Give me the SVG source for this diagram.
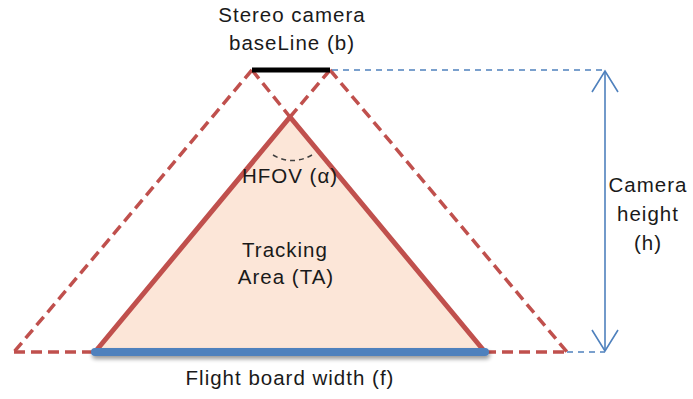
<svg xmlns="http://www.w3.org/2000/svg" width="693" height="399" viewBox="0 0 693 399">
<defs>
<style>
.t{font-family:"Liberation Sans",Arial,sans-serif;font-size:20.5px;letter-spacing:1px;fill:#1a1a1a;text-anchor:middle}
.rd{fill:none;stroke:#C0504D;stroke-width:3.5;stroke-dasharray:11,6}
.bd{fill:none;stroke:#4F81BD;stroke-width:1.3;stroke-dasharray:6,5}
</style>
<marker id="ah" markerWidth="24" markerHeight="28" refX="22" refY="14" orient="auto-start-reverse" markerUnits="userSpaceOnUse" viewBox="0 0 24 28">
<path d="M1,1 L22,14 L1,27" fill="none" stroke="#4F81BD" stroke-width="1.6"/>
</marker>
<filter id="sh" filterUnits="userSpaceOnUse" x="80" y="335" width="420" height="40">
<feGaussianBlur in="SourceAlpha" stdDeviation="2"/>
<feOffset dx="1" dy="3"/>
<feComponentTransfer><feFuncA type="linear" slope="0.4"/></feComponentTransfer>
<feMerge><feMergeNode/><feMergeNode in="SourceGraphic"/></feMerge>
</filter>
</defs>
<rect width="693" height="399" fill="#fff"/>
<g id="connectors">
<line class="rd" x1="252" y1="70" x2="14" y2="352"/>
<line class="rd" x1="252" y1="70" x2="290" y2="117"/>
<line class="rd" x1="330" y1="70" x2="290" y2="117"/>
<line class="rd" x1="330" y1="70" x2="567" y2="352"/>
<line class="rd" x1="14" y1="352" x2="95" y2="352"/>
<line class="rd" x1="485" y1="352" x2="567" y2="352"/>
<line class="bd" x1="332" y1="70" x2="605" y2="70"/>
<line class="bd" x1="567" y1="352" x2="605" y2="352"/>
<line x1="605" y1="71" x2="605" y2="351" stroke="#4F81BD" stroke-width="1.6" marker-start="url(#ah)" marker-end="url(#ah)"/>
</g>
<g id="tracking-area">
<polygon points="290,117 95,352 485,352" fill="#FCE6D8" stroke="#C0504D" stroke-width="5" stroke-linejoin="round"/>
<path d="M273,155 Q292,166 312,155" fill="none" stroke="#404040" stroke-width="1.5" stroke-dasharray="5,4"/>
<text class="t" x="290" y="183">HFOV (α)</text>
<text class="t" x="285" y="257">Tracking</text>
<text class="t" x="286" y="284">Area (TA)</text>
</g>
<g id="flight-board">
<line x1="95" y1="352" x2="485" y2="352" stroke="#4F81BD" stroke-width="8" stroke-linecap="round" filter="url(#sh)"/>
<text class="t" x="290" y="385">Flight board width (f)</text>
</g>
<g id="baseline">
<line x1="252" y1="70" x2="330" y2="70" stroke="#000" stroke-width="5"/>
<text class="t" x="292" y="22">Stereo camera</text>
<text class="t" x="292" y="50">baseLine (b)</text>
</g>
<g id="camera-height">
<text class="t" x="648" y="192">Camera</text>
<text class="t" x="648" y="221">height</text>
<text class="t" x="648" y="250">(h)</text>
</g>
</svg>
